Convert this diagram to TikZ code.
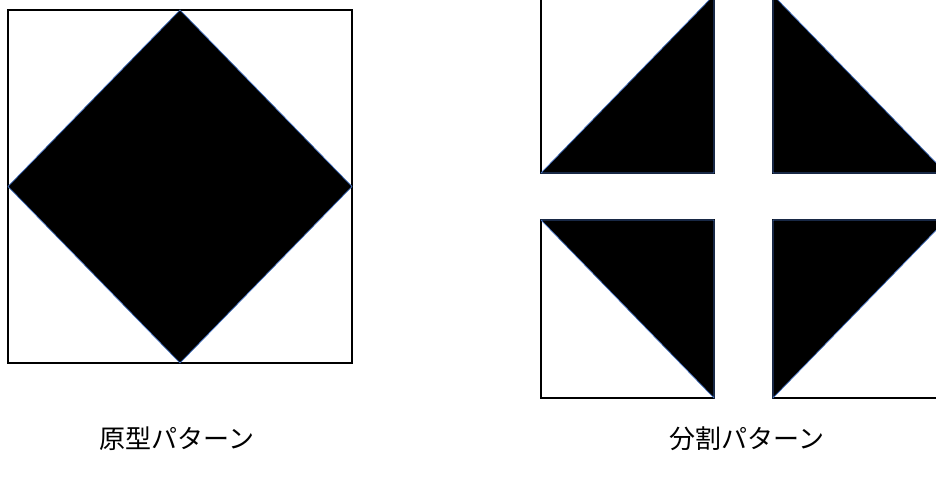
\documentclass[tikz,border=0pt]{standalone}
\usepackage{fontspec}
\usepackage{xcolor}
\usepackage{tikz}
\usetikzlibrary{arrows.meta, positioning, calc}
\newfontfamily\jpfont{Noto Sans CJK JP}
\definecolor{edgeblue}{RGB}{68,114,196}

\begin{document}
\begin{tikzpicture}[x=0.025cm, y=-0.025cm, line join=miter]
    \useasboundingbox (0,0) rectangle (936,479);
    \clip (0,0) rectangle (936,479);

    % Original pattern: square with diamond
    \draw[line width=1.1pt] (8,10) rectangle (352,363);
    \filldraw[fill=black, draw=edgeblue, line width=0.5pt]
        (180,10) -- (352,186.5) -- (180,363) -- (8,186.5) -- cycle;

    % Split pattern: four boxes, each with one triangle
    \foreach \xa/\ya/\xb/\yb in {
        541/-5/714/173,
        773/-5/946/173,
        541/220/714/398,
        773/220/946/398
    }{
        \draw[line width=1.1pt] (\xa,\ya) rectangle (\xb,\yb);
    }

    \filldraw[fill=black, draw=edgeblue, line width=0.5pt]
        (541,173) -- (714,173) -- (714,-5) -- cycle;
    \filldraw[fill=black, draw=edgeblue, line width=0.5pt]
        (773,-5) -- (773,173) -- (946,173) -- cycle;
    \filldraw[fill=black, draw=edgeblue, line width=0.5pt]
        (541,220) -- (714,220) -- (714,398) -- cycle;
    \filldraw[fill=black, draw=edgeblue, line width=0.5pt]
        (773,398) -- (773,220) -- (946,220) -- cycle;

    % Labels
    \node (orig) at (177,439) {\jpfont\fontsize{18.5}{22}\selectfont 原型パターン};
    \node (split) at (747,439) {\jpfont\fontsize{18.5}{22}\selectfont 分割パターン};

\end{tikzpicture}
\end{document}
